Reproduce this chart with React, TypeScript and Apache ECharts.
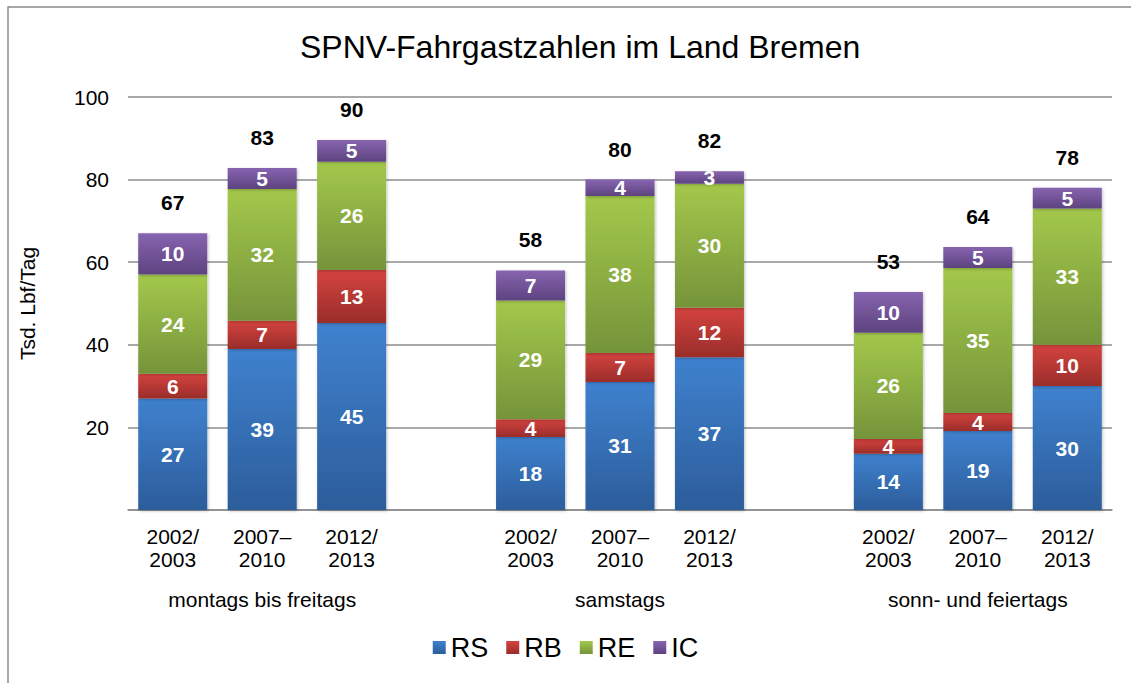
import React, { useEffect, useRef } from "react";
import * as echarts from "echarts";

const categories = ["2002/\n2003", "2007–\n2010", "2012/\n2013", "", "2002/\n2003", "2007–\n2010", "2012/\n2013", "", "2002/\n2003", "2007–\n2010", "2012/\n2013"];
const groupLabels = ["", "montags bis freitags", "", "", "", "samstags", "", "", "", "sonn- und feiertags", ""];
const rs = [27, 39, 45.3, "-", 17.7, 31, 37, "-", 13.6, 19.1, 30];
const rb = [6, 6.8, 12.8, "-", 4.3, 7, 12, "-", 3.6, 4.4, 10];
const re = [24, 31.9, 26.2, "-", 28.7, 38, 30, "-", 25.7, 35.1, 33];
const ic = [10, 5.1, 5.3, "-", 7.3, 4, 3, "-", 9.9, 5.1, 5];
const totals = [67, 83, 90, "-", 58, 80, 82, "-", 53, 64, 78];
const yTicks = [0, 20, 40, 60, 80, 100];

const FONT = "'Liberation Sans', Arial, sans-serif";

function grad(top: string, bottom: string) {
  return new echarts.graphic.LinearGradient(0, 0, 0, 1, [
    { offset: 0, color: top },
    { offset: 1, color: bottom },
  ]);
}

export default function App() {
  const ref = useRef<HTMLDivElement>(null);
  useEffect(() => {
    if (!ref.current) return;
    const chart = echarts.init(ref.current, null, { renderer: "svg" });
    const segLabel = {
      show: true,
      position: "inside",
      color: "#ffffff",
      fontWeight: "bold",
      fontSize: 21,
      fontFamily: FONT,
      formatter: (p: any) => String(Math.round(p.value)),
    };
    const mk = (name: string, data: any[], top: string, bottom: string) => ({
      name,
      type: "bar",
      stack: "a",
      data,
      barWidth: 69,
      itemStyle: {
        color: grad(top, bottom),
        shadowColor: "rgba(0,0,0,0.25)",
        shadowBlur: 3,
        shadowOffsetX: 1,
        shadowOffsetY: 1,
      },
      label: segLabel,
    });
    chart.setOption({
      animation: false,
      backgroundColor: "#ffffff",
      textStyle: { fontFamily: FONT },
      title: {
        text: "SPNV-Fahrgastzahlen im Land Bremen",
        left: 295,
        top: 26,
        textStyle: { fontSize: 32, fontWeight: "normal", color: "#000", fontFamily: FONT },
      },
      graphic: [
        {
          type: "rect",
          shape: { x: 8, y: 7, width: 1300, height: 900 },
          style: { fill: "none", stroke: "#8a8a8a", lineWidth: 1.5 },
          silent: true,
          z: -10,
        },
      ],
      legend: {
        data: ["RS", "RB", "RE", "IC"],
        left: "center",
        top: 629,
        icon: "rect",
        itemWidth: 13,
        itemHeight: 13,
        itemGap: 18,
        textStyle: { fontSize: 27, color: "#000", fontFamily: FONT },
      },
      grid: { left: 128, right: 19, top: 97, bottom: 173, containLabel: false },
      xAxis: [
        {
          type: "category",
          data: categories,
          position: "bottom",
          axisLine: { show: true, lineStyle: { color: "#8c8c8c", width: 1.5 } },
          axisTick: { show: false },
          axisLabel: { interval: 0, color: "#000", fontSize: 21, lineHeight: 23, margin: 15, fontFamily: FONT },
        },
        {
          type: "category",
          data: groupLabels,
          position: "bottom",
          offset: 79,
          axisLine: { show: false },
          axisTick: { show: false },
          axisLabel: { interval: 0, color: "#000", fontSize: 21, margin: 0, fontFamily: FONT },
        },
      ],
      yAxis: {
        type: "value",
        min: yTicks[0],
        max: yTicks[yTicks.length - 1],
        interval: 20,
        name: "Tsd. Lbf/Tag",
        nameLocation: "middle",
        nameGap: 90,
        nameTextStyle: { fontSize: 21, color: "#000", fontFamily: FONT },
        axisLine: { show: false },
        axisTick: { show: false },
        axisLabel: {
          color: "#000",
          fontSize: 21,
          margin: 19,
          fontFamily: FONT,
          formatter: (v: number) => (v === 0 ? "" : String(v)),
        },
        splitLine: { lineStyle: { color: "#8c8c8c", width: 1.5 } },
      },
      series: [
        mk("RS", rs, "#3f81ce", "#2c5d9b"),
        mk("RB", rb, "#d4433f", "#9a2d2a"),
        mk("RE", re, "#a3c84b", "#75943a"),
        mk("IC", ic, "#8764b0", "#5d437f"),
        {
          name: "total",
          type: "bar",
          stack: "a",
          barWidth: 69,
          data: totals.map((t) => (t === "-" ? "-" : 0)),
          itemStyle: { color: "transparent" },
          label: {
            show: true,
            position: "top",
            distance: 20,
            color: "#000",
            fontWeight: "bold",
            fontSize: 21,
            fontFamily: FONT,
            formatter: (p: any) => String(totals[p.dataIndex]),
          },
        },
      ],
    });
    return () => chart.dispose();
  }, []);
  return (
    <div
      ref={ref}
      style={{ position: "fixed", left: 0, top: 0, width: 1131, height: 683 }}
    />
  );
}
